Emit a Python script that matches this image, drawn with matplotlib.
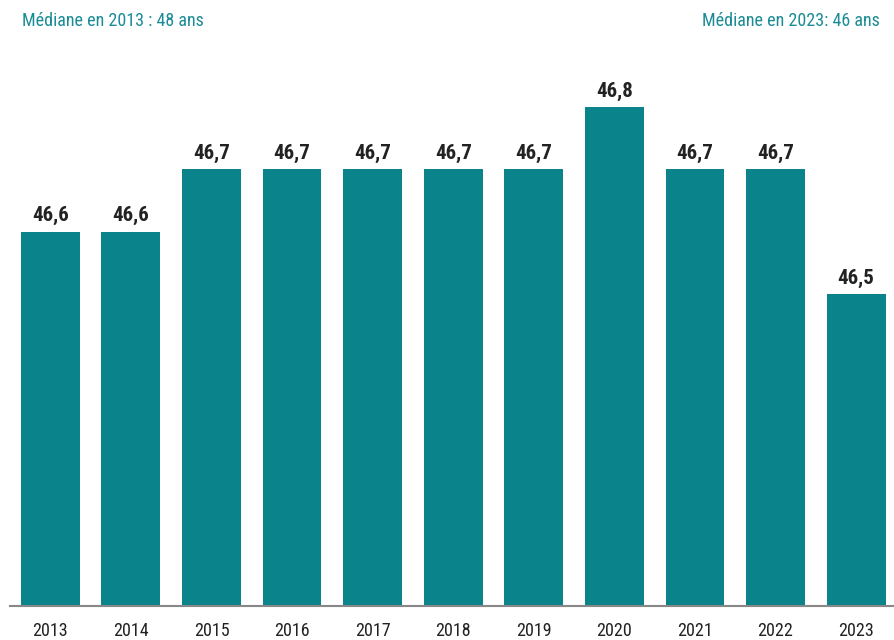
import matplotlib
matplotlib.use("Agg")
import matplotlib.pyplot as plt

# ── Data ──────────────────────────────────────────────────────────────────────
years = ["2013", "2014", "2015", "2016", "2017", "2018", "2019", "2020", "2021", "2022", "2023"]
ages = [46.6, 46.6, 46.7, 46.7, 46.7, 46.7, 46.7, 46.8, 46.7, 46.7, 46.5]
note_left = "Médiane en 2013 : 48 ans"
note_right = "Médiane en 2023 : 46 ans"

BAR = "#0a838b"
TEAL_TXT = "#1b8c96"

plt.rcParams["font.family"] = ["Roboto Condensed", "Liberation Sans Narrow", "Roboto", "DejaVu Sans"]

fig = plt.figure(figsize=(8.94, 6.4), dpi=100)
ax = fig.add_axes([10 / 894, 34 / 640, 884 / 894, 566 / 640])

x = range(len(years))
ax.bar(x, ages, width=0.73, color=BAR)
ax.set_ylim(46.0, 46.907)
ax.set_xlim(-0.5, 10.47)

for xi, v in zip(x, ages):
    ax.annotate(f"{v:.1f}".replace(".", ","), (xi, v), xytext=(0, 4.5),
                textcoords="offset points", ha="center", va="bottom",
                fontsize=15, fontweight="bold", color="#222222")

ax.set_xticks(list(x))
ax.set_xticklabels(years, fontsize=13, color="#222222")
ax.tick_params(axis="x", length=0, pad=11.5)
ax.set_yticks([])
for s in ["top", "left", "right"]:
    ax.spines[s].set_visible(False)
ax.spines["bottom"].set_color("#888888")
ax.spines["bottom"].set_linewidth(1.5)

fig.text(22 / 894, 1 - 21 / 640, note_left, ha="left", va="center", fontsize=13, color=TEAL_TXT)
fig.text(880 / 894, 1 - 21 / 640, note_right.replace(" :", ":"), ha="right", va="center",
         fontsize=13, color=TEAL_TXT)

fig.savefig("out.png", dpi=100)
